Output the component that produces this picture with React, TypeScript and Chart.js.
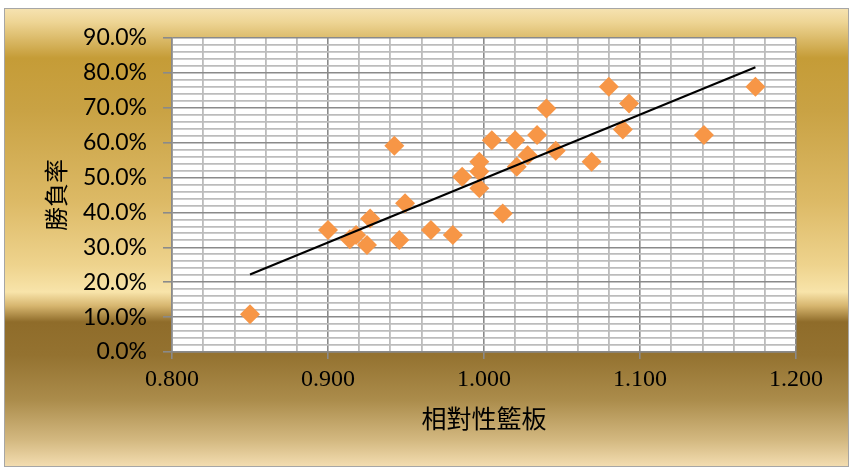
import React, { useEffect, useRef } from "react";
import { Chart, registerables } from "chart.js";

Chart.register(...registerables);

// Relative rebounds (x) and win rate in % (y)
const relativeRebounds = [
  0.85, 0.9, 0.914, 0.918, 0.925, 0.927, 0.9425, 0.9457, 0.9494, 0.966,
  0.98, 0.986, 0.997, 0.997, 0.997, 1.005, 1.012, 1.02, 1.021, 1.028,
  1.034, 1.04, 1.046, 1.069, 1.08, 1.089, 1.093, 1.141, 1.174,
];
const winRate = [
  10.8, 35.0, 32.3, 33.5, 30.7, 38.3, 59.1, 32.1, 42.6, 35.0,
  33.5, 50.2, 46.9, 51.7, 54.5, 60.7, 39.7, 60.7, 53.1, 56.4,
  62.2, 69.8, 57.7, 54.5, 76.0, 63.8, 71.2, 62.2, 76.0,
];

const xTitle = "相對性籃板";
const yTitle = "勝負率";
const xRange = [0.8, 1.2];
const yRange = [0, 90];
const xMajorStep = 0.1;
const xMinorStep = 0.02;
const yMajorStep = 10;
const yMinorStep = 2;

function linearFit(xs: number[], ys: number[]) {
  const n = xs.length;
  const mx = xs.reduce((a, b) => a + b, 0) / n;
  const my = ys.reduce((a, b) => a + b, 0) / n;
  let sxy = 0;
  let sxx = 0;
  for (let i = 0; i < n; i++) {
    sxy += (xs[i] - mx) * (ys[i] - my);
    sxx += (xs[i] - mx) * (xs[i] - mx);
  }
  const slope = sxy / sxx;
  return { slope, intercept: my - slope * mx };
}

const isMultiple = (v: number, step: number) =>
  Math.abs(Math.round(v / step) * step - v) < 1e-6;

const MAJOR = "#8a8a8a";
const MINOR = "#bcbcbc";

const backgroundPlugin = {
  id: "goldBackground",
  beforeDraw(chart: any) {
    const { ctx, width, height, chartArea } = chart;
    ctx.save();
    ctx.fillStyle = "#ffffff";
    ctx.fillRect(0, 0, width, height);
    const top = 8;
    const bottom = 467;
    const left = 4;
    const right = 849;
    const h = bottom - top;
    const g = ctx.createLinearGradient(0, top, 0, bottom);
    const stop = (y: number, c: string) => g.addColorStop(Math.min(1, Math.max(0, (y - top) / h)), c);
    stop(8, "#f6e3b2");
    stop(22, "#eed595");
    stop(58, "#c59c37");
    stop(110, "#c9a244");
    stop(200, "#dcb965");
    stop(265, "#eed38d");
    stop(292, "#f8e4aa");
    stop(306, "#d6b56e");
    stop(322, "#8f6c2a");
    stop(355, "#947230");
    stop(400, "#ab8c4b");
    stop(440, "#d3b880");
    stop(467, "#f4deb2");
    ctx.fillStyle = g;
    ctx.fillRect(left, top, right - left, bottom - top);
    ctx.strokeStyle = "#a6a6a6";
    ctx.lineWidth = 1;
    ctx.strokeRect(left + 0.5, top + 0.5, right - left - 1, bottom - top - 1);
    ctx.fillStyle = "#ffffff";
    ctx.fillRect(chartArea.left, chartArea.top, chartArea.right - chartArea.left, chartArea.bottom - chartArea.top);
    ctx.restore();
  },
};

export default function App() {
  const canvasRef = useRef<HTMLCanvasElement | null>(null);

  useEffect(() => {
    const canvas = canvasRef.current;
    if (!canvas) return;
    const points = relativeRebounds.map((x, i) => ({ x, y: winRate[i] }));
    const { slope, intercept } = linearFit(relativeRebounds, winRate);
    const xMin = Math.min(...relativeRebounds);
    const xMax = Math.max(...relativeRebounds);
    const trend = [
      { x: xMin, y: intercept + slope * xMin },
      { x: xMax, y: intercept + slope * xMax },
    ];

    const chart = new Chart(canvas, {
      type: "scatter",
      data: {
        datasets: [
          {
            type: "line",
            label: "trend",
            data: trend,
            borderColor: "#000000",
            borderWidth: 2,
            pointRadius: 0,
            fill: false,
            order: 0,
          },
          {
            label: "data",
            data: points,
            pointStyle: "rectRot",
            pointRadius: 10,
            pointHoverRadius: 10,
            backgroundColor: "#F79646",
            borderWidth: 0,
            order: 1,
          },
        ],
      },
      options: {
        animation: false,
        responsive: false,
        events: [],
        layout: { padding: { top: 38, right: 55, left: 0, bottom: 0 } },
        plugins: {
          legend: { display: false },
          tooltip: { enabled: false },
        },
        scales: {
          x: {
            type: "linear",
            min: xRange[0],
            max: xRange[1],
            afterFit: (scale: any) => {
              scale.height = 118;
            },
            ticks: {
              stepSize: xMinorStep,
              autoSkip: false,
              maxRotation: 0,
              minRotation: 0,
              padding: 6,
              color: "#000000",
              font: { family: "'Liberation Serif', serif", size: 24 },
              callback: (v: any) => (isMultiple(Number(v), xMajorStep) ? Number(v).toFixed(3) : ""),
            },
            grid: {
              color: (c: any) => (c.tick && isMultiple(c.tick.value, xMajorStep) ? MAJOR : MINOR),
              lineWidth: (c: any) => (c.tick && isMultiple(c.tick.value, xMajorStep) ? 1.6 : 1.8),
              tickLength: 7,
              tickColor: (c: any) => (c.tick && isMultiple(c.tick.value, xMajorStep) ? MAJOR : "rgba(0,0,0,0)"),
            },
            border: { color: MAJOR, width: 1.6 },
            title: {
              display: true,
              text: xTitle,
              color: "#000000",
              font: { family: "'Noto Sans CJK TC', sans-serif", size: 25 },
              padding: { top: 0, bottom: 37 },
            },
          },
          y: {
            type: "linear",
            min: yRange[0],
            max: yRange[1],
            afterFit: (scale: any) => {
              scale.width = 172;
            },
            ticks: {
              stepSize: yMinorStep,
              autoSkip: false,
              padding: 16,
              color: "#000000",
              font: { family: "Lato, sans-serif", size: 23 },
              callback: (v: any) => (isMultiple(Number(v), yMajorStep) ? Number(v).toFixed(1) + "%" : ""),
            },
            grid: {
              color: (c: any) => (c.tick && isMultiple(c.tick.value, yMajorStep) ? MAJOR : MINOR),
              lineWidth: (c: any) => (c.tick && isMultiple(c.tick.value, yMajorStep) ? 1.6 : 1.8),
              tickLength: 9,
              tickColor: (c: any) => (c.tick && isMultiple(c.tick.value, yMajorStep) ? MAJOR : "rgba(0,0,0,0)"),
            },
            border: { color: MAJOR, width: 1.6 },
            title: {
              display: true,
              text: yTitle,
              color: "#000000",
              font: { family: "'Noto Sans CJK TC', sans-serif", size: 24 },
              padding: { top: 41, bottom: 0 },
            },
          },
        },
      },
      plugins: [backgroundPlugin],
    } as any);

    return () => chart.destroy();
  }, []);

  return (
    <div style={{ position: "absolute", left: 0, top: 0, width: 851, height: 470 }}>
      <canvas ref={canvasRef} width={851} height={470} style={{ display: "block", width: 851, height: 470 }} />
    </div>
  );
}
